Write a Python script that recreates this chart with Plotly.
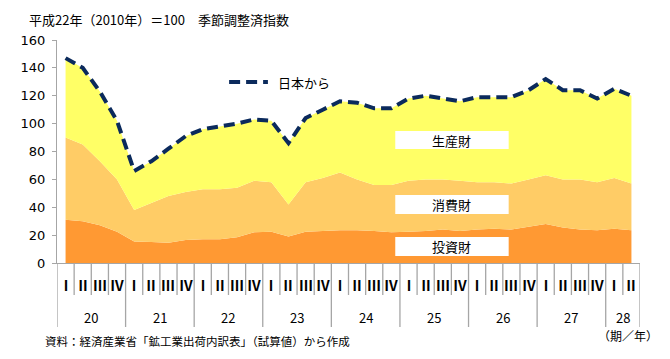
import plotly.graph_objects as go

# ---- data ----
quarters = ["Ⅰ", "Ⅱ", "Ⅲ", "Ⅳ"] * 8 + ["Ⅰ", "Ⅱ"]
years = ["20", "21", "22", "23", "24", "25", "26", "27", "28"]
year_quarter_counts = [4, 4, 4, 4, 4, 4, 4, 4, 2]

investment = [31, 30, 27, 22.5, 15.5, 15, 14.5, 16.5, 17, 17, 18.5, 22, 22.5, 19, 22.5, 23, 23.5,
              23.5, 23, 22, 22.5, 23, 24, 23, 24, 24.5, 24, 26, 28, 25.5, 24, 23.5, 24.5, 23.5]
consumer = [59, 55, 46, 37.5, 22.5, 28, 33.5, 34.5, 36, 36, 35.5, 37, 35.5, 23, 35.5, 38, 41.5,
            36.5, 33, 34, 36.5, 37, 36, 36, 34, 33.5, 33, 34, 35, 34.5, 36, 34.5, 36.5, 33.5]
producer = [57, 55, 50, 42, 28, 30, 34, 40, 43, 45, 46, 44, 44, 44, 46, 49, 51,
            55, 55, 55, 59, 60, 58, 57, 61, 61, 62, 64, 69, 64, 64, 60, 64, 63]
total_from_japan = [147, 140, 123, 102, 66, 73, 82, 91, 96, 98, 100, 103, 102, 86, 104, 110, 116,
                    115, 111, 111, 118, 120, 118, 116, 119, 119, 119, 124, 132, 124, 124, 118, 125, 120]

series_names = ["投資財", "消費財", "生産財"]
colors = ["#FF9933", "#FFCC66", "#FFFF66"]

n = len(quarters)
xs = list(range(n))

# plot area in screen pixels (page has an 8px body margin)
PX0, PX1, PY0, PY1 = 54, 640, 40, 263
PW, PH = PX1 - PX0, PY1 - PY0


def px(x):
    return (x - PX0) / PW


def py(y):
    return (PY1 - y) / PH


fig = go.Figure()
for name, vals, col in zip(series_names, [investment, consumer, producer], colors):
    fig.add_trace(go.Scatter(x=xs, y=vals, name=name, stackgroup="one", mode="none",
                             fillcolor=col, line=dict(width=0), showlegend=False, hoverinfo="skip"))

fig.add_trace(go.Scatter(x=xs, y=total_from_japan, name="日本から", mode="lines",
                         line=dict(color="#0B2A5C", width=4, dash="11px,6px"), showlegend=False))

# legend sample
fig.add_shape(type="line", xref="paper", yref="paper", x0=px(227), x1=px(266),
              y0=py(82), y1=py(82), line=dict(color="#0B2A5C", width=4, dash="11px,6px"))
fig.add_annotation(xref="paper", yref="paper", x=px(274), y=py(82),
                   text="日本から", showarrow=False, xanchor="left", yanchor="middle",
                   font=dict(size=13, color="black"))

# white label boxes
labels = [("生産財", 131, 149), ("消費財", 195, 214), ("投資財", 237, 256)]
for txt, ytop, ybot in labels:
    fig.add_shape(type="rect", xref="paper", yref="paper",
                  x0=px(394), x1=px(508), y0=py(ybot), y1=py(ytop),
                  fillcolor="white", line=dict(width=0))
    fig.add_annotation(xref="paper", yref="paper", x=px(451), y=py((ytop + ybot) / 2),
                       text=txt, showarrow=False, xanchor="center", yanchor="middle",
                       font=dict(size=13, color="black"))

# x axis: quarter separators, quarter labels, year labels
axis_gray = "#A6A6A6"
year_boundaries = [0]
for c in year_quarter_counts:
    year_boundaries.append(year_boundaries[-1] + c)
for b in range(n + 1):
    x_b = b - 0.5
    long_line = b in year_boundaries
    fig.add_shape(type="line", xref="x", yref="paper", x0=x_b, x1=x_b,
                  y0=0, y1=py(327 if long_line else 295),
                  line=dict(color=axis_gray, width=1.3))
for i, q in enumerate(quarters):
    fig.add_annotation(xref="x", yref="paper", x=i, y=py(285), text="<b>" + q + "</b>", showarrow=False,
                       xanchor="center", yanchor="middle",
                       font=dict(size=14, color="black", family="Noto Sans CJK JP, sans-serif"))
start = 0
for yr, c in zip(years, year_quarter_counts):
    center = start + (c - 1) / 2
    fig.add_annotation(xref="x", yref="paper", x=center, y=py(317), text=yr, showarrow=False,
                       xanchor="center", yanchor="middle", font=dict(size=13, color="black"))
    start += c

fig.add_annotation(xref="paper", yref="paper", x=px(660), y=py(335),
                   text="（期／年）", showarrow=False, xanchor="right", yanchor="middle",
                   font=dict(size=12, color="black"))
fig.add_annotation(xref="paper", yref="paper", x=px(40), y=py(341),
                   text="資料：経済産業省「鉱工業出荷内訳表」（試算値）から作成", showarrow=False,
                   xanchor="left", yanchor="middle", font=dict(size=11.5, color="black"))
fig.add_annotation(xref="paper", yref="paper", x=px(24), y=py(20),
                   text="平成22年（2010年）＝100　季節調整済指数", showarrow=False,
                   xanchor="left", yanchor="middle", font=dict(size=13, color="black"))

fig.update_layout(
    width=662, height=351,
    margin=dict(l=PX0 - 8, r=30, t=PY0 - 8, b=96),
    paper_bgcolor="white", plot_bgcolor="white",
    font=dict(family="Noto Sans CJK JP, DejaVu Sans, sans-serif", size=13, color="black"),
    showlegend=False,
    xaxis=dict(range=[-0.5, n - 0.5], showticklabels=False, showgrid=False, zeroline=False,
               showline=True, linecolor=axis_gray, linewidth=1.3, ticks=""),
    yaxis=dict(range=[0, 160], dtick=20, showgrid=False, zeroline=False, showline=True,
               linecolor=axis_gray, linewidth=1.3, ticks="outside", ticklen=4, tickcolor=axis_gray,
               tickfont=dict(size=13, family="DejaVu Sans, sans-serif"), ticklabelstandoff=4),
)

fig.write_html("out.html")
